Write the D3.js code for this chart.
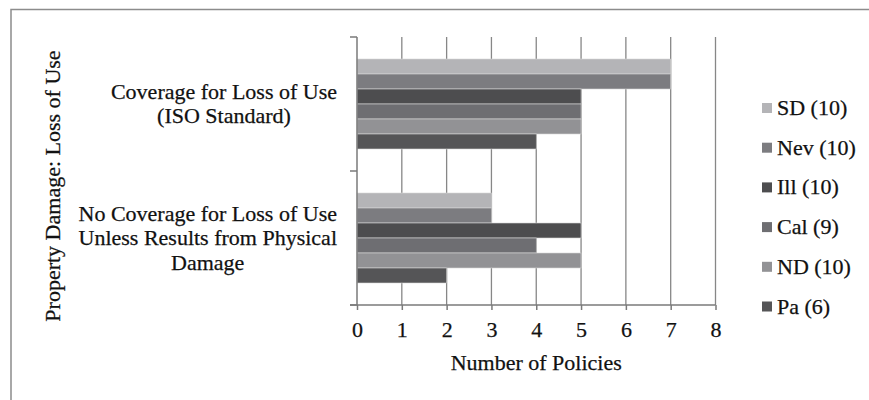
<!DOCTYPE html>
<html>
<head>
<meta charset="utf-8">
<script src="https://cdn.jsdelivr.net/npm/d3@7"></script>
<style>
  html, body { margin: 0; padding: 0; background: #fff; }
  svg { display: block; }
  text { font-family: "Liberation Serif", "Times New Roman", serif; fill: #111; stroke: #111; stroke-width: 0.25px; }
</style>
</head>
<body>
<svg id="chart" width="869" height="400"></svg>
<script>
// ---- data ----
const categories = [
  ["Coverage for Loss of Use", "(ISO Standard)"],
  ["No Coverage for Loss of Use", "Unless Results from Physical", "Damage"]
];
const seriesNames = ["SD (10)", "Nev (10)", "Ill (10)", "Cal (9)", "ND (10)", "Pa (6)"];
const sdValues  = [7, 3];
const nevValues = [7, 3];
const illValues = [5, 5];
const calValues = [5, 4];
const ndValues  = [5, 5];
const paValues  = [4, 2];
const seriesValues = [sdValues, nevValues, illValues, calValues, ndValues, paValues];
const seriesColors = ["#b4b4b7", "#7c7c80", "#4d4d4f", "#6e6e72", "#929295", "#555557"];
const xTicks = [0, 1, 2, 3, 4, 5, 6, 7, 8];
const xTitle = "Number of Policies";
const yTitle = "Property Damage: Loss of Use";

// ---- layout ----
const svg = d3.select("#chart");
const plot = { left: 357, right: 715.5, top: 37, bottom: 305 };
const fontSize = 22;
const gridColor = "#878787";

// chart border (extends beyond the right and bottom edges)
svg.append("rect")
  .attr("x", 11).attr("y", 9.5)
  .attr("width", 900).attr("height", 420)
  .attr("fill", "none").attr("stroke", "#8c8c8c").attr("stroke-width", 1.5);

const x = d3.scaleLinear().domain([0, 8]).range([plot.left, plot.right]);
const catIdx = categories.map((d, i) => i);
const y = d3.scaleBand().domain(catIdx).range([plot.top, plot.bottom]).padding(0);
const ys = d3.scaleBand().domain(d3.range(seriesNames.length))
  .range([0, y.bandwidth()]).paddingInner(0).paddingOuter(1.467);

// gridlines
svg.append("g").selectAll("line")
  .data(xTicks.filter(t => t > 0))
  .join("line")
  .attr("x1", d => x(d)).attr("x2", d => x(d))
  .attr("y1", plot.top).attr("y2", plot.bottom)
  .attr("stroke", gridColor).attr("stroke-width", 1.3);

// bars
const bars = [];
seriesValues.forEach((vals, s) => vals.forEach((v, c) => bars.push({ s, c, v })));
svg.append("g").selectAll("rect")
  .data(bars)
  .join("rect")
  .attr("x", x(0))
  .attr("y", d => y(d.c) + ys(d.s))
  .attr("width", d => x(d.v) - x(0))
  .attr("height", ys.bandwidth())
  .attr("fill", d => seriesColors[d.s])
  .attr("stroke", "#d8d8d8").attr("stroke-width", 0.6);

// y axis (ticks on left, at band boundaries)
const yAxisG = svg.append("g");
yAxisG.append("line")
  .attr("x1", plot.left).attr("x2", plot.left)
  .attr("y1", plot.top).attr("y2", plot.bottom)
  .attr("stroke", "#7a7a7a").attr("stroke-width", 1.5);
const yTickPos = [plot.top].concat(catIdx.map(i => y(i) + y.bandwidth()));
yAxisG.selectAll("line.tick").data(yTickPos).join("line")
  .attr("class", "tick")
  .attr("x1", plot.left - 7).attr("x2", plot.left)
  .attr("y1", d => d).attr("y2", d => d)
  .attr("stroke", "#7a7a7a").attr("stroke-width", 1.5);

// x axis
const xAxis = d3.axisBottom(x).tickValues(xTicks).tickSize(5).tickPadding(11).tickFormat(d3.format("d"));
const xAxisG = svg.append("g").attr("transform", `translate(0,${plot.bottom})`).call(xAxis);
xAxisG.select(".domain").remove();
xAxisG.append("line")
  .attr("x1", plot.left - 7).attr("x2", plot.right)
  .attr("y1", 0).attr("y2", 0)
  .attr("stroke", "#7a7a7a").attr("stroke-width", 1.5);
xAxisG.selectAll(".tick line").attr("stroke", "#7a7a7a").attr("stroke-width", 1.5);
xAxisG.selectAll(".tick text")
  .attr("font-size", fontSize)
  .attr("font-family", "Liberation Serif, Times New Roman, serif")
  .attr("fill", "#111");

// x title
svg.append("text")
  .attr("x", (plot.left + plot.right) / 2).attr("y", 370)
  .attr("text-anchor", "middle").attr("font-size", fontSize)
  .text(xTitle);

// y title
svg.append("text")
  .attr("transform", "translate(60,186) rotate(-90)")
  .attr("text-anchor", "middle").attr("font-size", fontSize)
  .text(yTitle);

// category labels: centered block, right edge at 337
const lineH = 24.5;
categories.forEach((lines, i) => {
  const g = svg.append("g");
  const texts = lines.map(l => g.append("text").attr("font-size", fontSize).attr("text-anchor", "middle").text(l));
  const maxW = d3.max(texts, t => t.node().getComputedTextLength());
  const cx = 337 - maxW / 2;
  const center = y(i) + y.bandwidth() / 2;
  const n = lines.length;
  texts.forEach((t, k) => {
    t.attr("x", cx).attr("y", center + (k - (n - 1) / 2) * lineH + 7);
  });
});

// legend
const legendY0 = 108, legendStep = 39.7;
const lg = svg.append("g");
seriesNames.forEach((name, s) => {
  const cy = legendY0 + s * legendStep;
  lg.append("rect").attr("x", 762).attr("y", cy - 5).attr("width", 10).attr("height", 10)
    .attr("fill", seriesColors[s]);
  lg.append("text").attr("x", 777).attr("y", cy + 7).attr("font-size", fontSize).text(name);
});
</script>
</body>
</html>
